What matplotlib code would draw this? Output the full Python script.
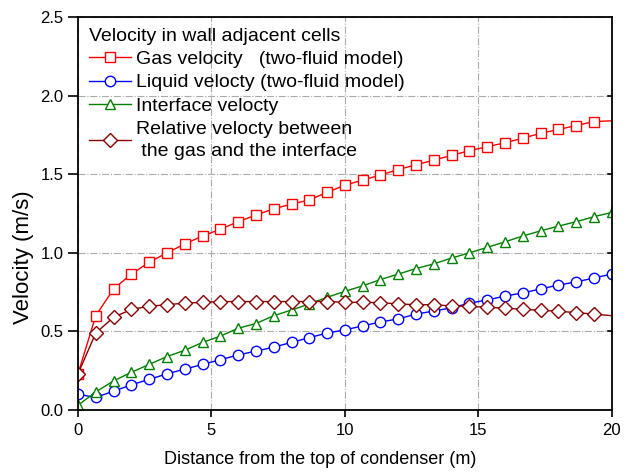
import matplotlib
matplotlib.use('Agg')
import matplotlib.pyplot as plt
from matplotlib.ticker import FormatStrFormatter

plt.rcParams['font.family'] = ['Liberation Sans', 'DejaVu Sans']

# distance along condenser (m), one point every 2/3 m
distance = [i * 2.0 / 3.0 for i in range(31)]

gas = [0.23, 0.60, 0.77, 0.865, 0.94, 1.00, 1.056, 1.107, 1.15, 1.198,
       1.24, 1.28, 1.31, 1.336, 1.385, 1.43, 1.463, 1.495, 1.53, 1.56,
       1.59, 1.62, 1.65, 1.675, 1.70, 1.73, 1.76, 1.785, 1.81, 1.835, 1.84]
liquid = [0.10, 0.08, 0.12, 0.16, 0.195, 0.23, 0.26, 0.29, 0.32, 0.35,
          0.375, 0.40, 0.43, 0.46, 0.49, 0.51, 0.535, 0.56, 0.58, 0.61,
          0.63, 0.65, 0.68, 0.70, 0.725, 0.745, 0.77, 0.795, 0.815, 0.84, 0.865]
interface = [0.03, 0.115, 0.185, 0.24, 0.29, 0.34, 0.38, 0.43, 0.47, 0.52,
             0.55, 0.60, 0.636, 0.675, 0.717, 0.755, 0.79, 0.83, 0.865, 0.90,
             0.93, 0.967, 1.00, 1.035, 1.07, 1.107, 1.14, 1.17, 1.198, 1.23, 1.257]
relative = [0.23, 0.49, 0.59, 0.64, 0.66, 0.67, 0.68, 0.685, 0.69, 0.69,
            0.69, 0.69, 0.69, 0.69, 0.69, 0.685, 0.685, 0.683, 0.675, 0.67,
            0.67, 0.662, 0.66, 0.653, 0.648, 0.64, 0.635, 0.628, 0.62, 0.61, 0.60]

labels = ['Gas velocity   (two-fluid model)',
          'Liquid velocty (two-fluid model)',
          'Interface velocty',
          'Relative velocty between\n the gas and the interface']

fig = plt.figure(figsize=(6.34, 4.74), dpi=100)
ax = fig.add_axes([0.123, 0.135, 0.842, 0.829])

ms = 7.5
ax.plot(distance, gas, color='#ff0000', lw=1, marker='s', ms=ms, mfc='white',
        mew=1, markevery=slice(0, 30), label=labels[0])
ax.plot(distance, liquid, color='#0000ff', lw=1, marker='o', ms=ms, mfc='white',
        mew=1, label=labels[1])
ax.plot(distance, interface, color='#008000', lw=1, marker='^', ms=ms, mfc='white',
        mew=1, label=labels[2])
ax.plot(distance, relative, color='#8b0000', lw=1, marker='D', ms=ms - 0.5, mfc='white',
        mew=1, markevery=slice(0, 30), label=labels[3])

ax.set_xlim(0, 20)
ax.set_ylim(0, 2.5)
ax.set_xticks([0, 5, 10, 15, 20])
ax.set_yticks([0, 0.5, 1.0, 1.5, 2.0, 2.5])
ax.yaxis.set_major_formatter(FormatStrFormatter('%.1f'))
ax.grid(True, color='#aaaaaa', linestyle='-.', linewidth=0.8)
ax.set_axisbelow(True)

ax.tick_params(axis='y', which='both', direction='out', length=7, width=1.2,
               labelsize=12, right=False)
ax.tick_params(axis='x', direction='out', length=5, width=1.2, labelsize=12,
               pad=4)
for yv in [0.5, 1.0, 1.5, 2.0]:
    ax.plot([19.85, 20], [yv, yv], color='black', lw=1.2, clip_on=False)
for s in ax.spines.values():
    s.set_linewidth(1.3)

ax.set_xlabel('Distance from the top of condenser (m)', fontsize=13)
ax.set_ylabel('Velocity (m/s)', fontsize=16)
ax.xaxis.set_label_coords(0.453, -0.105)
ax.yaxis.set_label_coords(-0.082, 0.39)

leg = ax.legend(loc='upper left', title='Velocity in wall adjacent cells',
                frameon=False, fontsize=14, title_fontsize=14,
                handlelength=2.2, handletextpad=0.25, labelspacing=0.3,
                borderaxespad=0.5, borderpad=0.05)
leg._legend_box.align = 'left'
leg._legend_box.sep = 4
leg.get_texts()[3].set_linespacing(1.45)

plt.savefig('out.png', dpi=100)
